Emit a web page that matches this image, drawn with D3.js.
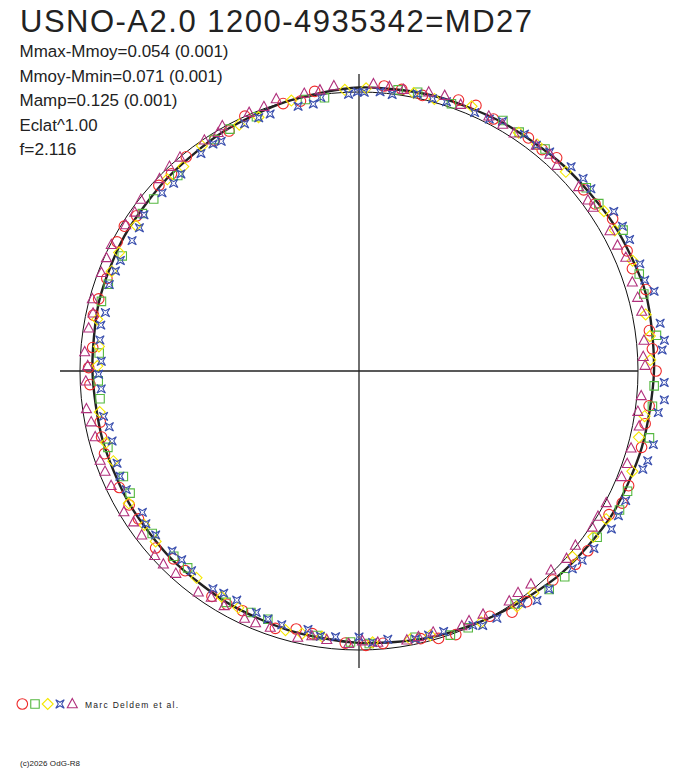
<!DOCTYPE html>
<html>
<head>
<meta charset="utf-8">
<script src="https://cdn.jsdelivr.net/npm/d3@7"></script>
<style>
  body { margin: 0; background: #fff; }
  svg { display: block; }
  text { font-family: "Liberation Sans", Arial, sans-serif; fill: #222; }
</style>
</head>
<body>
<div id="chart-area"></div>
<script>
// header texts
var title = "USNO-A2.0 1200-4935342=MD27";
var statLines = ["Mmax-Mmoy=0.054 (0.001)", "Mmoy-Mmin=0.071 (0.001)", "Mamp=0.125 (0.001)", "Eclat^1.00", "f=2.116"];
var statWidths = [209, 203, 158, 78, 57];

// mean light curve: phase and (m - Mmoy) in mag
var curvePhase = [0, 0.042, 0.083, 0.125, 0.167, 0.208, 0.25, 0.292, 0.333, 0.375, 0.417, 0.458,
                  0.5, 0.542, 0.583, 0.625, 0.667, 0.708, 0.75, 0.792, 0.833, 0.875, 0.917, 0.958];
var curveMag = [-0.018, -0.024, -0.031, -0.043, -0.059, -0.071, -0.063, -0.055, -0.047, -0.028, -0.004, 0.012,
                0.028, 0.041, 0.049, 0.053, 0.054, 0.053, 0.049, 0.039, 0.033, 0.028, 0.016, 0.000];

// observations [phase, m - Mmoy]
var circleData = [[.014,-.028],[.036,-.015],[.056,-.038],[.078,-.026],[.100,-.036],[.119,-.046],[.142,-.038],[.164,-.066],
  [.183,-.058],[.206,-.076],[.228,-.056],[.250,-.071],[.269,-.052],[.292,-.054],[.314,-.055],[.333,-.037],[.356,-.047],
  [.381,-.024],[.400,-.024],[.422,.004],[.444,-.007],[.464,.017],[.486,.022],[.508,.026],[.528,.048],[.550,.033],
  [.572,.049],[.592,.039],[.614,.056],[.636,.037],[.656,.053],[.678,.049],[.700,.045],[.719,.060],[.742,.038],
  [.764,.046],[.783,.030],[.806,.041],[.828,.019],[.847,.031],[.869,.024],[.892,.015],[.911,.026],[.933,-.001],
  [.956,.004],[.975,-.016],
  [.024,-.023],[.066,-.044],[.110,-.033],[.152,-.040],[.193,-.051],[.238,-.060],[.279,-.047],[.324,-.061],
  [.366,-.044],[.410,-.026],[.454,.000],[.496,.018],[.538,.053],[.582,.043],[.624,.059],[.666,.051],[.710,.052],
  [.752,.034],[.793,.035],[.838,.013],[.879,.027],[.921,.024],[.966,.011]];

var squareData = [[.022,-.019],[.053,-.015],[.083,-.039],[.111,-.042],[.142,-.051],[.172,-.080],[.197,-.069],[.231,-.081],
  [.258,-.065],[.286,-.075],[.317,-.060],[.347,-.045],[.375,-.047],[.406,-.006],[.436,.000],[.467,.027],[.494,.025],
  [.525,.044],[.556,.057],[.583,.048],[.614,.071],[.644,.063],[.672,.077],[.703,.065],[.733,.073],[.761,.073],
  [.792,.048],[.822,.062],[.850,.044],[.881,.049],[.911,.023],[.939,.019],[.969,.009],
  [.033,-.023],[.094,-.034],[.153,-.053],[.208,-.063],[.269,-.065],[.328,-.064],[.386,-.042],[.447,-.002],
  [.505,.031],[.567,.057],[.625,.067],[.683,.082],[.744,.071],[.803,.054],[.861,.044],[.922,.019],[.980,.014]];

var diamondData = [[.031,-.017],[.064,-.034],[.094,-.031],[.128,-.032],[.158,-.053],[.189,-.063],[.219,-.052],[.244,-.049],
  [.275,-.040],[.306,-.048],[.336,-.036],[.364,-.016],[.394,-.013],[.428,-.002],[.458,.021],[.492,.029],[.522,.043],
  [.544,.038],[.575,.052],[.606,.063],[.639,.054],[.667,.053],[.694,.068],[.725,.065],[.753,.068],[.781,.048],
  [.811,.048],[.842,.050],[.875,.031],[.903,.018],[.928,.020],[.961,.001],[.992,-.010],
  [.043,-.013],[.106,-.036],[.170,-.051],[.231,-.055],[.287,-.034],[.348,-.032],[.406,-.018],[.470,.023],
  [.534,.040],[.587,.058],[.651,.058],[.706,.063],[.765,.070],[.823,.045],[.887,.037],[.940,.024],[.004,-.015]];

var starData = [[.003,.001],[.019,.002],[.033,-.016],[.050,-.016],[.067,-.016],[.083,-.035],[.097,-.039],[.114,-.045],
  [.128,-.061],[.144,-.063],[.161,-.085],[.178,-.086],[.192,-.085],[.208,-.105],[.225,-.102],[.239,-.098],[.256,-.104],
  [.272,-.091],[.289,-.096],[.303,-.084],[.322,-.069],[.339,-.074],[.353,-.061],[.369,-.047],[.386,-.041],[.403,-.019],
  [.419,-.016],[.433,.001],[.450,.020],[.467,.020],[.483,.036],[.500,.051],[.514,.048],[.531,.061],[.547,.054],
  [.564,.065],[.578,.076],[.594,.066],[.611,.072],[.628,.077],[.642,.070],[.658,.080],[.675,.070],[.692,.079],
  [.706,.088],[.722,.077],[.739,.081],[.756,.083],[.769,.071],[.786,.074],[.803,.058],[.819,.063],[.833,.068],
  [.850,.052],[.867,.053],[.883,.053],[.900,.040],[.914,.044],[.931,.026],[.947,.028],[.964,.029],[.978,.011],[.994,.008],
  [.012,-.004],[.042,-.012],[.076,-.018],[.106,-.032],[.137,-.065],[.170,-.085],[.201,-.082],[.234,-.110],
  [.265,-.109],[.298,-.092],[.331,-.071],[.362,-.054],[.395,-.045],[.428,-.016],[.459,.023],[.492,.028],
  [.523,.043],[.556,.058],[.587,.074],[.620,.079],[.651,.066],[.684,.070],[.715,.091],[.748,.073],[.778,.066],
  [.812,.062],[.842,.066],[.876,.060],[.909,.036],[.940,.026],[.973,.032],[.999,.000]];

var triangleData = [[.008,-.033],[.025,-.023],[.039,-.033],[.058,-.024],[.075,-.027],[.092,-.019],[.106,-.031],[.122,-.024],
  [.139,-.030],[.153,-.026],[.169,-.033],[.186,-.043],[.200,-.033],[.217,-.039],[.233,-.030],[.247,-.028],[.264,-.017],
  [.281,-.026],[.294,-.015],[.311,-.016],[.328,-.005],[.344,-.007],[.358,.004],[.378,.009],[.392,.020],[.408,.016],
  [.425,.023],[.439,.016],[.456,.029],[.472,.022],[.489,.027],[.506,.024],[.519,.033],[.536,.022],[.553,.030],
  [.569,.025],[.583,.032],[.600,.022],[.617,.023],[.633,.014],[.647,.026],[.664,.019],[.681,.023],[.697,.020],
  [.711,.028],[.728,.015],[.744,.022],[.761,.016],[.775,.021],[.792,.011],[.808,.013],[.825,.004],[.839,.015],
  [.856,.006],[.872,.008],[.889,.001],[.906,.005],[.919,-.006],[.936,-.007],[.953,-.021],[.969,-.015],[.986,-.028],
  [.017,-.027],[.048,-.037],[.084,-.025],[.115,-.038],[.148,-.026],[.178,-.033],[.209,-.036],[.242,-.022],
  [.273,-.011],[.303,-.019],[.337,-.003],[.367,-.003],[.401,.024],[.434,.023],[.465,.026],[.498,.035],
  [.528,.039],[.562,.026],[.592,.034],[.626,.016],[.656,.030],[.690,.023],[.720,.025],[.753,.030],[.784,.027],
  [.817,.009],[.848,.017],[.881,.001],[.915,.009],[.945,-.007],[.978,-.018]];

var authors = "Marc Deldem et al.";
var copyright = "(c)2026 OdG-R8";

// layout
var width = 688, height = 768;
var cx = 359, cy = 371, R = 279;

var svg = d3.select("#chart-area").append("svg")
  .attr("width", width)
  .attr("height", height);

// scales: phase -> angle (clockwise from top), mag -> radius (brighter = outside)
var angle = d3.scaleLinear().domain([0, 1]).range([0, 2 * Math.PI]);
var radius = d3.scaleLinear().domain([-0.1, 0.1]).range([R + 25.4, R - 25.4]);

// symbols
var symStar = { draw: function(ctx, size) {
  var r = Math.sqrt(size) / 2, i = r * 0.4;
  ctx.moveTo(-r, -r); ctx.lineTo(0, -i); ctx.lineTo(r, -r); ctx.lineTo(i, 0);
  ctx.lineTo(r, r); ctx.lineTo(0, i); ctx.lineTo(-r, r); ctx.lineTo(-i, 0); ctx.closePath();
}};
var symDiamond = { draw: function(ctx, size) {
  var r = Math.sqrt(size) / 2;
  ctx.moveTo(0, -r); ctx.lineTo(r, 0); ctx.lineTo(0, r); ctx.lineTo(-r, 0); ctx.closePath();
}};
var symTriangle = { draw: function(ctx, size) {
  var r = Math.sqrt(size) / 2;
  ctx.moveTo(0, -r * 1.1); ctx.lineTo(r, r * 0.75); ctx.lineTo(-r, r * 0.75); ctx.closePath();
}};

var series = [
  { data: circleData, type: d3.symbolCircle, size: 88, color: "#ee2a2a" },
  { data: squareData, type: d3.symbolSquare, size: 72, color: "#55b840" },
  { data: diamondData, type: symDiamond, size: 121, color: "#f5e800" },
  { data: starData, type: symStar, size: 72, color: "#3a4fae" },
  { data: triangleData, type: symTriangle, size: 100, color: "#b0307c" }
];

var g = svg.append("g").attr("transform", "translate(" + cx + "," + cy + ")");

// reference circle
g.append("circle")
  .attr("r", R)
  .attr("fill", "none")
  .attr("stroke", "#111")
  .attr("stroke-width", 1);

// cross axes
g.append("line").attr("x1", 0).attr("x2", 0).attr("y1", -297).attr("y2", 297)
  .attr("stroke", "#222").attr("stroke-width", 1.3);
g.append("line").attr("x1", -299).attr("x2", R).attr("y1", 0).attr("y2", 0)
  .attr("stroke", "#222").attr("stroke-width", 1.3);

// mean curve
var curvePts = curvePhase.map(function(p, i) { return [p, curveMag[i]]; });
var line = d3.lineRadial()
  .angle(function(d) { return angle(d[0]); })
  .radius(function(d) { return radius(d[1]); })
  .curve(d3.curveCardinalClosed.tension(0.2));

g.append("path")
  .datum(curvePts)
  .attr("d", line)
  .attr("fill", "none")
  .attr("stroke", "#222")
  .attr("stroke-width", 2.4);

// observations
series.forEach(function(s) {
  var sym = d3.symbol().type(s.type).size(s.size);
  g.append("g").selectAll("path")
    .data(s.data)
    .enter().append("path")
    .attr("d", sym)
    .attr("transform", function(d) {
      var p = d3.pointRadial(angle(d[0]), radius(d[1]));
      return "translate(" + p[0] + "," + p[1] + ")";
    })
    .attr("fill", "none")
    .attr("stroke", s.color)
    .attr("stroke-width", 1.1);
});

// title and stats
svg.append("text")
  .attr("x", 20).attr("y", 32)
  .attr("font-size", 31)
  .attr("textLength", 512)
  .attr("lengthAdjust", "spacing")
  .text(title);

svg.selectAll(".stat")
  .data(statLines)
  .enter().append("text")
  .attr("class", "stat")
  .attr("x", 19.5)
  .attr("y", function(d, i) { return 57 + i * 24.5; })
  .attr("font-size", 16.3)
  .attr("textLength", function(d, i) { return statWidths[i]; })
  .attr("lengthAdjust", "spacingAndGlyphs")
  .text(function(d) { return d; });

// legend
var legendX = [22.3, 35, 47.7, 60, 72.3];
series.forEach(function(s, i) {
  svg.append("path")
    .attr("d", d3.symbol().type(s.type).size(s.size))
    .attr("transform", "translate(" + legendX[i] + ",704)")
    .attr("fill", "none")
    .attr("stroke", s.color)
    .attr("stroke-width", 1.1);
});
svg.append("text")
  .attr("x", 85).attr("y", 708)
  .attr("font-size", 8.5)
  .attr("textLength", 93)
  .attr("lengthAdjust", "spacing")
  .text(authors);

svg.append("text")
  .attr("x", 20).attr("y", 766)
  .attr("font-size", 8)
  .attr("textLength", 60)
  .attr("lengthAdjust", "spacing")
  .text(copyright);
</script>
</body>
</html>
